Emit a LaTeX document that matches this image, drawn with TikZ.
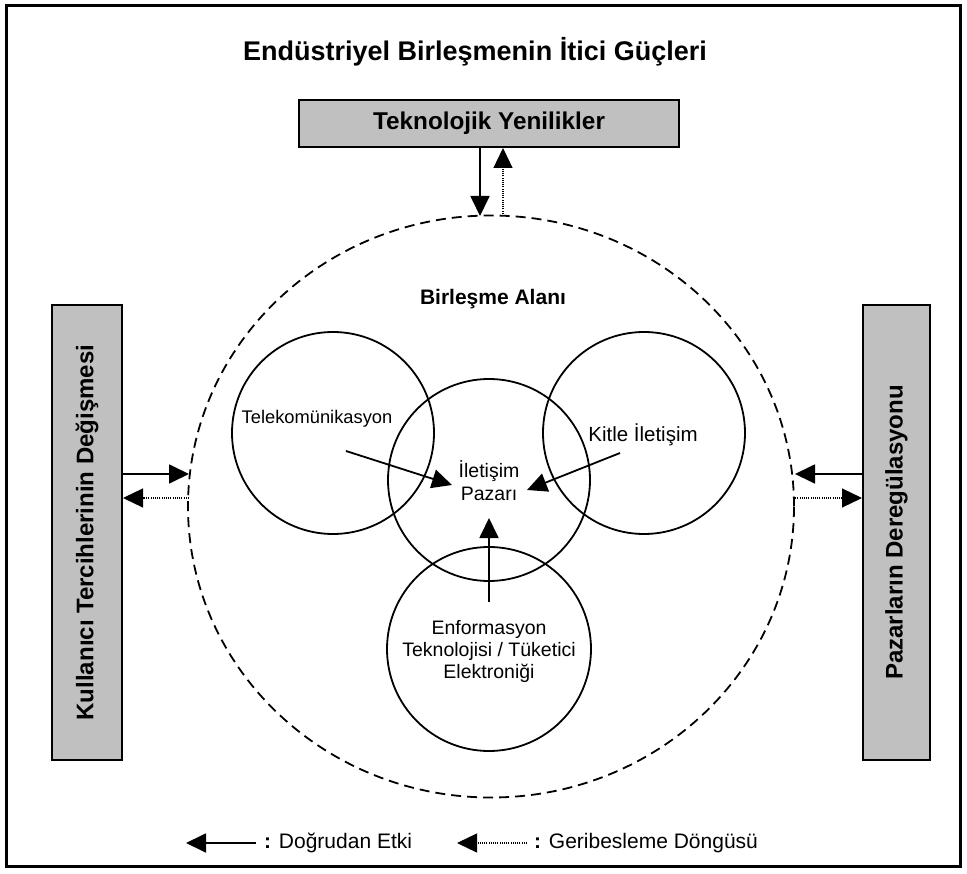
\documentclass[tikz,border=0pt]{standalone}
\usepackage{fontspec}
\setmainfont{Liberation Sans}
\usetikzlibrary{arrows.meta,shapes.geometric}
\definecolor{boxgray}{HTML}{C0C0C0}
\tikzset{
  frame/.style={draw=black,line width=3pt},
  graybox/.style={draw=black,line width=2pt,fill=boxgray,inner sep=0pt},
  ring/.style={draw=black,line width=1.8pt,circle,inner sep=0pt},
  direct/.style={line width=1.8pt,-{Triangle[length=20pt,width=19pt]}},
  feedback/.style={line width=1.2pt,dash pattern=on 1pt off 1.2pt,-{Triangle[length=20pt,width=19pt]}},
  lbl/.style={font=\fontsize{19.5}{22}\selectfont,align=center,inner sep=0pt},
  blbl/.style={font=\fontsize{21}{25}\selectfont\bfseries,align=center,inner sep=0pt},
  sidetxt/.style={font=\fontsize{24}{28}\selectfont\bfseries,rotate=90,inner sep=0pt},
  legtxt/.style={font=\fontsize{21}{25}\selectfont,anchor=west,inner sep=0pt},
}
\begin{document}
\begin{tikzpicture}[x=1pt,y=-1pt]
\useasboundingbox (0,0) rectangle (967,874);
\node[frame,minimum width=954pt,minimum height=860pt,inner sep=0pt] (frame) at (483.5,436) {};
% title
\node[font=\fontsize{27}{32}\selectfont\bfseries,inner sep=0pt] (title) at (475,52) {Endüstriyel Birleşmenin İtici Güçleri};
% top box
\node[graybox,minimum width=380pt,minimum height=47pt,font=\fontsize{24.3}{28}\selectfont\bfseries] (tek) at (489,123.5) {Teknolojik Yenilikler};
% side boxes
\node[graybox,minimum width=70pt,minimum height=455pt] (left) at (87,532.5) {};
\node[sidetxt] (lefttxt) at (left.center) {Kullanıcı Tercihlerinin Değişmesi};
\node[graybox,minimum width=67pt,minimum height=455pt] (right) at (896.5,532.5) {};
\node[sidetxt] (righttxt) at (right.center) {Pazarların Deregülasyonu};
% dashed area
\node[ellipse,draw=black,line width=1.8pt,dash pattern=on 10pt off 6pt,minimum width=606pt,minimum height=582pt,inner sep=0pt] (area) at (491,506.5) {};
\node[blbl] (areatxt) at (493,299) {Birleşme Alanı};
% circles
\node[ring,minimum size=202pt] (tele) at (333,433) {};
\node[ring,minimum size=202pt] (kitle) at (644,433) {};
\node[ring,minimum size=202pt] (pazar) at (489,480) {};
\node[ring,minimum size=204pt] (enf) at (489,649) {};
% labels
\node[lbl,font=\fontsize{18.3}{22}\selectfont] (teletxt) at (317,419) {Telekomünikasyon};
\node[lbl,font=\fontsize{20.5}{22}\selectfont] (kitletxt) at (643,435) {Kitle İletişim};
\node[lbl,font=\fontsize{19.5}{23}\selectfont] (pazartxt) at (489,481) {İletişim\\Pazarı};
\node[lbl] (enftxt) at (489,651) {Enformasyon\\Teknolojisi / Tüketici\\Elektroniği};
% inner arrows
\coordinate (t1) at (346,451);
\coordinate (t2) at (452,485);
\coordinate (k1) at (620,453);
\coordinate (k2) at (527,490);
\coordinate (e1) at (489,602);
\coordinate (e2) at (489,518);
\draw[direct] (t1) -- (t2);
\draw[direct] (k1) -- (k2);
\draw[direct] (e1) -- (e2);
% top arrows
\coordinate (topin) at (480,216);
\coordinate (topout) at (503,216);
\draw[direct] (tek.south -| topin) -- (topin);
\draw[feedback] (topout) -- (tek.south -| topout);
% left arrows
\coordinate (lin) at (189,474);
\coordinate (lout) at (189,498);
\draw[direct] (left.east |- lin) -- (lin);
\draw[feedback] (lout) -- (left.east |- lout);
% right arrows
\coordinate (rin) at (795,474);
\coordinate (rout) at (793,498);
\draw[direct] (right.west |- rin) -- (rin);
\draw[feedback] (rout) -- (right.west |- rout);
% legend
\coordinate (ls1) at (256,843);
\coordinate (ls2) at (186,843);
\coordinate (lf1) at (527,843);
\coordinate (lf2) at (457,843);
\draw[direct] (ls1) -- (ls2);
\node[legtxt] (legs) at (264,843) {\textbf{:} Doğrudan Etki};
\draw[feedback] (lf1) -- (lf2);
\node[legtxt] (legf) at (534,843) {\textbf{:} Geribesleme Döngüsü};
\end{tikzpicture}
\end{document}
